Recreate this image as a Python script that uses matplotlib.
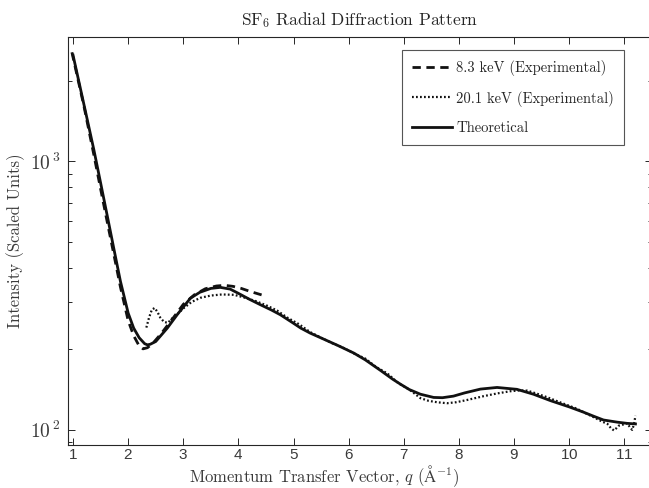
import matplotlib
matplotlib.use("Agg")
import matplotlib.pyplot as plt
from matplotlib.ticker import FixedLocator, LogLocator, NullFormatter, FuncFormatter
import numpy as np

plt.rcParams['mathtext.fontset'] = 'cm'
plt.rcParams['axes.formatter.use_mathtext'] = True

# ---- data ----
q_theo = [1.0, 1.2, 1.377, 1.5, 1.62, 1.75, 1.86, 2.0, 2.1, 2.2, 2.3, 2.35, 2.4, 2.5,
          2.6, 2.71, 2.9, 3.13, 3.3, 3.5, 3.67, 3.85, 4.0, 4.2, 4.4, 4.6, 4.76, 5.0,
          5.13, 5.3, 5.49, 5.8, 6.09, 6.3, 6.58, 6.8, 6.94, 7.1, 7.3, 7.54, 7.7, 7.9,
          8.1, 8.39, 8.69, 9.05, 9.35, 9.66, 10.0, 10.26, 10.45, 10.62, 10.87, 11.05, 11.2]
i_theo = [2490, 1622, 1107, 832, 628, 462, 357, 272, 239, 220, 209, 207, 208, 213,
          225, 239, 270, 309, 325, 336, 339, 334, 322, 306, 292, 279, 268, 249,
          239, 229, 220, 206, 193, 182, 166, 154, 147.6, 141, 135.5, 131.8, 131.5, 133.3,
          137, 141.6, 143.6, 141.3, 135.5, 128.2, 121.5, 116.1, 112, 108.6, 106.6, 105.5, 105]

q_83 = [0.98, 1.2, 1.377, 1.5, 1.62, 1.75, 1.86, 2.0, 2.1, 2.2, 2.27, 2.35, 2.45, 2.6,
        2.8, 3.0, 3.2, 3.4, 3.6, 3.75, 3.9, 4.05, 4.22, 4.35, 4.46]
i_83 = [2550, 1600, 1060, 790, 595, 440, 340, 255, 224, 205, 200, 202, 210, 228,
        258, 293, 318, 335, 343, 345, 342, 336, 327, 321, 316]

q_201 = [2.33, 2.38, 2.43, 2.48, 2.53, 2.58, 2.65, 2.72, 2.8, 2.9, 3.0, 3.15, 3.31, 3.5,
         3.7, 3.92, 4.1, 4.3, 4.5, 4.7, 4.88, 5.1, 5.3, 5.5, 5.7, 5.9, 6.1, 6.3, 6.5,
         6.7, 6.9, 7.1, 7.3, 7.45, 7.6, 7.78, 7.95, 8.15, 8.45, 8.7, 8.93, 9.1, 9.24,
         9.42, 9.6, 9.85, 10.14, 10.3, 10.44, 10.6, 10.69, 10.76, 10.81, 10.86, 10.9,
         10.98, 11.05, 11.1, 11.14, 11.17, 11.2]
i_201 = [240, 262, 280, 284, 275, 262, 252, 250, 260, 270, 283, 299, 310, 316,
         319, 318, 311, 302, 291, 278, 262, 247, 231, 220, 210, 202, 192, 184, 171,
         162, 149, 141, 131, 128, 126.5, 125.4, 126.5, 129, 133.3, 136.5, 139, 140, 139.7,
         136, 132, 126, 119.6, 115, 111.3, 107, 105.1, 101, 99.3, 101.5, 103.5,
         104.5, 105.6, 102, 99.8, 104, 112.6]

x_ticks = [1, 2, 3, 4, 5, 6, 7, 8, 9, 10, 11]
y_ticks = [100, 1000]

title_text = r'SF$_6$ Radial Diffraction Pattern'
xlabel_text = r'Momentum Transfer Vector, $q$ ($\mathrm{\AA}^{-1}$)'
ylabel_text = 'Intensity (Scaled Units)'
legend_labels = ['8.3 keV (Experimental)', '20.1 keV (Experimental)', 'Theoretical']

# ---- figure ----
W, H = 649, 488
fig = plt.figure(figsize=(W / 100, H / 100), dpi=100)
ax = fig.add_axes([67.5 / W, 43.5 / H, (652 - 67.5) / W, (444.5 - 37.3) / H])

fg = '#262626'
lab = '#3a3a3a'

l1, = ax.plot(q_83, i_83, color='#111111', lw=2.0, linestyle=(0, (3, 2)))
l2, = ax.plot(q_201, i_201, color='#111111', lw=1.6, linestyle=(0, (0.8, 1.0)))
l3, = ax.plot(q_theo, i_theo, color='#111111', lw=2.0, linestyle='-')

ax.set_yscale('log')
ax.set_xlim(0.9, 11.5)
ax.set_ylim(88, 2900)

ax.xaxis.set_major_locator(FixedLocator(x_ticks))
ax.yaxis.set_major_locator(FixedLocator(y_ticks))
ax.yaxis.set_minor_locator(LogLocator(base=10, subs=np.arange(2, 10)))
ax.yaxis.set_minor_formatter(NullFormatter())
ax.yaxis.set_major_formatter(FuncFormatter(
    lambda v, p: r'$\mathsf{10^{\,%d}}$' % int(round(np.log10(v)))))

ax.tick_params(which='both', direction='in', top=True, right=True, colors=fg,
               labelcolor=lab, width=0.7)
ax.tick_params(which='major', length=4.8)
ax.tick_params(axis='x', which='major', labelsize=11, pad=2.5)
ax.tick_params(axis='y', which='major', labelsize=14, pad=5)
ax.tick_params(which='minor', length=2.9)
for lbl in ax.get_xticklabels():
    lbl.set_fontfamily('Liberation Sans')

for s in ax.spines.values():
    s.set_color(fg)
    s.set_linewidth(0.8)

ax.set_title(title_text, fontfamily='cmr10', fontsize=12.5, color=fg, pad=9)
ax.set_xlabel(xlabel_text, fontfamily=['cmr10', 'DejaVu Serif'], fontsize=12,
              color=lab)
xl = ax.xaxis.label
ax.xaxis.set_label_coords(0.5, 5.5 / H, transform=fig.transFigure)
xl.set_verticalalignment('baseline')
ax.set_ylabel(ylabel_text, fontfamily='cmr10', fontsize=12, color=lab)
ax.yaxis.set_label_coords(-0.0735, 0.5)

leg = ax.legend([l1, l2, l3], legend_labels, loc='upper left',
                bbox_to_anchor=(0.572, 0.970), borderaxespad=0,
                prop={'family': 'cmr10', 'size': 10.5}, fancybox=False,
                edgecolor='#555555', framealpha=1, handlelength=2.7,
                handletextpad=0.3, labelspacing=1.0, borderpad=0.72)
leg.get_frame().set_linewidth(0.8)
for t in leg.get_texts():
    t.set_color(fg)

fig.savefig('out.png', dpi=100)
